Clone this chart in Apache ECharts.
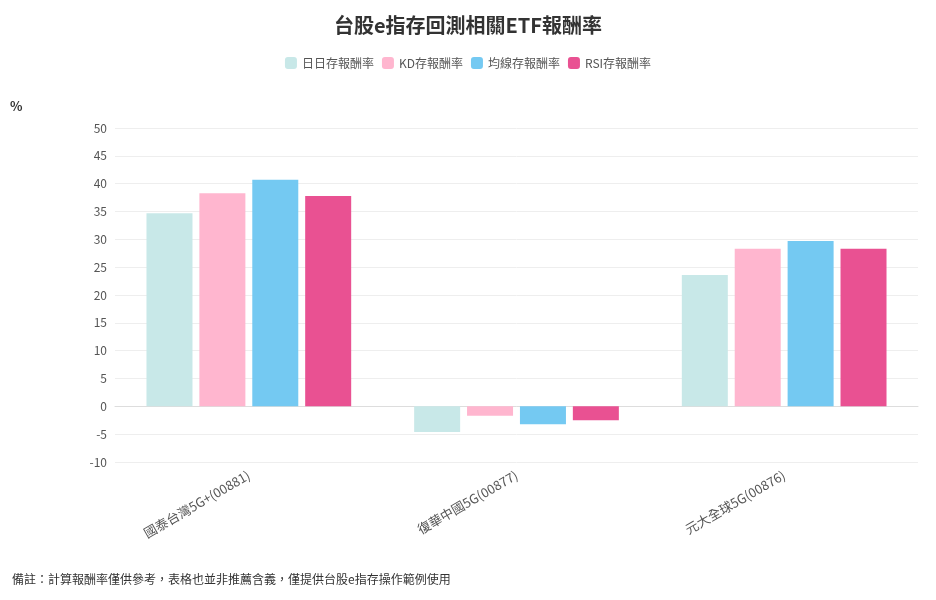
<!DOCTYPE html><html><head><meta charset="utf-8"><script src="https://cdn.jsdelivr.net/npm/echarts@6/dist/echarts.min.js"></script>
<style>body{margin:0}#c{width:936px;height:600px}</style></head><body><div id="c"></div><script>
const categories=['國泰台灣5G+(00881)','復華中國5G(00877)','元大全球5G(00876)'];
const seriesNames=['日日存報酬率','KD存報酬率','均線存報酬率','RSI存報酬率'];
const dailyVals=[34.7,-4.6,23.6];
const kdVals=[38.3,-1.7,28.3];
const maVals=[40.7,-3.2,29.7];
const rsiVals=[37.8,-2.5,28.3];
const colors=['#c8e8e8','#ffb6cf','#74c9f2','#e95192'];
const F='"Noto Sans CJK TC","Noto Sans",sans-serif';
const c=echarts.init(document.getElementById('c'));
c.setOption({
 textStyle:{fontFamily:F},
 title:{text:'台股e指存回測相關ETF報酬率',left:'center',top:10,textStyle:{fontSize:20,fontWeight:'bold',color:'#333',fontFamily:F}},
 legend:{top:52,itemWidth:12,itemHeight:12,itemGap:8,icon:'roundRect',textStyle:{fontSize:12,color:'#555'}},
 graphic:[{type:'text',left:10,top:100,style:{text:'%',fontSize:13,fontWeight:'bold',fill:'#333',fontFamily:F}},
  {type:'text',left:12,top:573,style:{text:'備註：計算報酬率僅供參考，表格也並非推薦含義，僅提供台股e指存操作範例使用',fontSize:12,fill:'#333',fontFamily:F}}],
 grid:{left:115,right:18,top:128,bottom:138},
 xAxis:{type:'category',data:categories,axisTick:{show:false},axisLine:{lineStyle:{color:'#ddd'}},axisLabel:{rotate:30,fontSize:13,color:'#555',interval:0,margin:12}},
 yAxis:{type:'value',min:-10,max:50,interval:5,axisLabel:{color:'#555',fontSize:12},splitLine:{lineStyle:{color:'#eee'}}},
 series:[dailyVals,kdVals,maVals,rsiVals].map((d,i)=>({name:seriesNames[i],type:'bar',data:d,barWidth:46,barGap:'15%',itemStyle:{color:colors[i]}}))
});
</script></body></html>
